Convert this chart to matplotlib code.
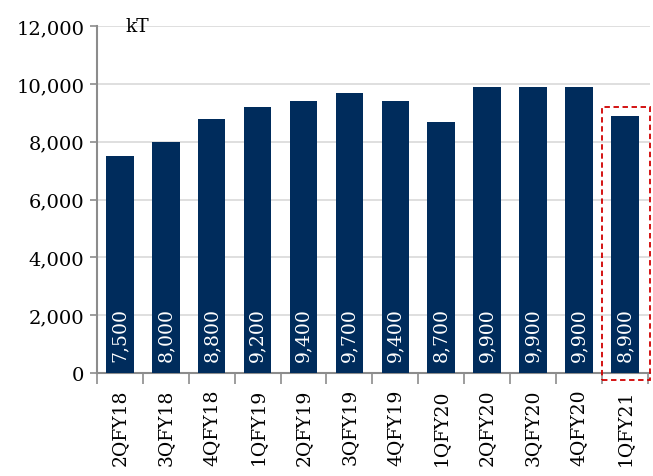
import numpy as np
import matplotlib
matplotlib.use('Agg')
from matplotlib import pyplot as plt
from matplotlib.patches import Rectangle
from matplotlib.ticker import FuncFormatter, FixedLocator

plt.rcParams['font.family'] = ['DejaVu Serif']

quarters = ['2QFY18', '3QFY18', '4QFY18', '1QFY19', '2QFY19', '3QFY19',
            '4QFY19', '1QFY20', '2QFY20', '3QFY20', '4QFY20', '1QFY21']
volumes = [7500, 8000, 8800, 9200, 9400, 9700, 9400, 8700, 9900, 9900, 9900, 8900]
bar_labels = ['7,500', '8,000', '8,800', '9,200', '9,400', '9,700',
              '9,400', '8,700', '9,900', '9,900', '9,900', '8,900']

navy = '#002c5c'
grey = '#8c8c8c'

fig = plt.figure(figsize=(6.53, 4.77), dpi=100)
ax = fig.add_axes([0.1485, 0.216, 0.847, 0.727])

x = np.arange(len(quarters))
ax.bar(x, volumes, width=0.6, color=navy, zorder=3)

# values written inside bars
for xi, lab in zip(x, bar_labels):
    ax.text(xi, 420, lab, rotation=90, color='white', ha='center', va='bottom',
            fontsize=13.5, zorder=4)

ax.set_ylim(0, 12000)
ax.set_xlim(-0.5, 11.55)
ax.set_yticks(range(0, 12001, 2000))
ax.yaxis.set_major_formatter(FuncFormatter(lambda v, p: f'{int(v):,}'))
ax.grid(axis='y', color='#d9d9d9', linewidth=1.2, zorder=0)

# category labels centred, ticks between categories
ax.set_xticks(x)
ax.set_xticklabels(quarters, rotation=90, fontsize=13.5)
ax.tick_params(axis='x', length=0, pad=11)
ax.xaxis.set_minor_locator(FixedLocator(np.arange(-0.5, 12, 1)))
ax.tick_params(axis='x', which='minor', length=8, direction='out', color=grey, width=1.2)
ax.tick_params(axis='y', labelsize=14, length=5, color=grey, width=1.2, pad=4)

for s in ['top', 'right']:
    ax.spines[s].set_visible(False)
for s in ['left', 'bottom']:
    ax.spines[s].set_color(grey)
    ax.spines[s].set_linewidth(1.5)

ax.text(0.12, 12000, 'kT', fontsize=13.5, va='center', ha='left')

# highlight latest quarter
ax.add_patch(Rectangle((10.5, -240), 1.04, 9450, fill=False, edgecolor='#d00000',
                       linestyle=(0, (3, 2)), linewidth=1.3, clip_on=False, zorder=5))

fig.savefig('out.png', dpi=100)
